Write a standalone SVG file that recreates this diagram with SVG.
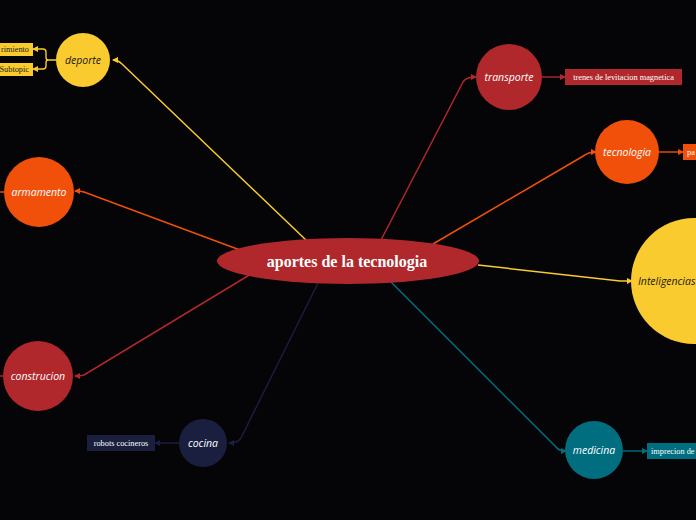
<svg xmlns="http://www.w3.org/2000/svg" width="696" height="520" viewBox="0 0 696 520">
<style>
.bg{fill:#050407}
.lbl{font-family:"Open Sans","DejaVu Sans",sans-serif;font-style:italic;font-size:10.5px;dominant-baseline:central}
.m{text-anchor:middle}
.w{fill:#ffffff}
.d{fill:#1a1a1a}
.box{font-family:"Liberation Serif","DejaVu Serif",serif;font-size:8.3px;dominant-baseline:central}
.c{fill:none;stroke-width:1.5}
.s{fill:none;stroke-width:1.4}
</style>
<defs>
<marker id="aY" viewBox="0 0 6 6" refX="5" refY="3" markerWidth="6" markerHeight="6" markerUnits="userSpaceOnUse" orient="auto"><path d="M0,0 L6,3 L0,6 Z" fill="#F9CB2E"/></marker>
<marker id="aR" viewBox="0 0 6 6" refX="5" refY="3" markerWidth="6" markerHeight="6" markerUnits="userSpaceOnUse" orient="auto"><path d="M0,0 L6,3 L0,6 Z" fill="#B0282C"/></marker>
<marker id="aO" viewBox="0 0 6 6" refX="5" refY="3" markerWidth="6" markerHeight="6" markerUnits="userSpaceOnUse" orient="auto"><path d="M0,0 L6,3 L0,6 Z" fill="#F0500A"/></marker>
<marker id="aT" viewBox="0 0 6 6" refX="5" refY="3" markerWidth="6" markerHeight="6" markerUnits="userSpaceOnUse" orient="auto"><path d="M0,0 L6,3 L0,6 Z" fill="#006E7F"/></marker>
<marker id="aN" viewBox="0 0 6 6" refX="5" refY="3" markerWidth="6" markerHeight="6" markerUnits="userSpaceOnUse" orient="auto"><path d="M0,0 L6,3 L0,6 Z" fill="#1B1F3F"/></marker>
</defs>
<rect class="bg" x="0" y="0" width="696" height="520"/>

<g id="connectors">
<path class="c" stroke="#F9CB2E" d="M307,241 L122,64 Q118,60 113,60" marker-end="url(#aY)"/>
<path class="c" stroke="#B0282C" d="M381,240 L463,82 Q466,77 476,77" marker-end="url(#aR)"/>
<path class="c" stroke="#F0500A" d="M433,244 L585,155 Q589,152 596,152" marker-end="url(#aO)"/>
<path class="c" stroke="#F9CB2E" d="M478,265 L620,281 Q625,281 632,281" marker-end="url(#aY)"/>
<path class="c" stroke="#006E7F" d="M391,282 L556,447 Q559,451 566,451" marker-end="url(#aT)"/>
<path class="c" stroke="#1B1F3F" d="M318,283 L241,438 Q238,443 229,443" marker-end="url(#aN)"/>
<path class="c" stroke="#B0282C" d="M251,274 L84,375 Q81,376 75,376" marker-end="url(#aR)"/>
<path class="c" stroke="#F0500A" d="M240,250 L84,192 Q81,191 75,191" marker-end="url(#aO)"/>
<path class="s" stroke="#F0500A" d="M0,192 L4,192"/>
<path class="s" stroke="#B0282C" d="M0,376 L4,376"/>
<path class="s" stroke="#F9CB2E" d="M56,60 L48,60 Q46,60 46,57 L46,52 Q46,49 43,49 L33,49" marker-end="url(#aY)"/>
<path class="s" stroke="#F9CB2E" d="M48,60 Q46,60 46,63 L46,66 Q46,69 43,69 L33,69" marker-end="url(#aY)"/>
<path class="s" stroke="#B0282C" d="M542,77 L565,77" marker-end="url(#aR)"/>
<path class="s" stroke="#F0500A" d="M659,152 L683,152" marker-end="url(#aO)"/>
<path class="s" stroke="#006E7F" d="M623,451 L647,451" marker-end="url(#aT)"/>
<path class="s" stroke="#1B1F3F" d="M179,443 L155,443" marker-end="url(#aN)"/>
</g>

<g id="center">
<ellipse cx="348" cy="261" rx="131" ry="23" fill="#B0282C"/>
<text x="347" y="261" font-family="'Liberation Serif','DejaVu Serif',serif" font-weight="bold" font-size="16px" fill="#ffffff" text-anchor="middle" dominant-baseline="central">aportes de la tecnologia</text>
</g>

<g id="deporte">
<circle cx="83" cy="60" r="27" fill="#F9CB2E"/>
<text class="lbl m d" x="83" y="60">deporte</text>
</g>
<g id="deporte-sub1">
<rect x="-2" y="43" width="35" height="13" fill="#F9CB2E"/>
<text class="box d" x="29" y="49.5" text-anchor="end">rimiento</text>
</g>
<g id="deporte-sub2">
<rect x="-2" y="63" width="35" height="13" fill="#F9CB2E"/>
<text class="box d" x="29" y="69.5" text-anchor="end">Subtopic</text>
</g>

<g id="transporte">
<circle cx="509" cy="77" r="33" fill="#B0282C"/>
<text class="lbl m w" x="509" y="77">transporte</text>
</g>
<g id="transporte-sub">
<rect x="565" y="69" width="117" height="16" fill="#B0282C"/>
<text class="box w" x="623.5" y="77" text-anchor="middle">trenes de levitacion magnetica</text>
</g>

<g id="tecnologia">
<circle cx="627" cy="152" r="32" fill="#F0500A"/>
<text class="lbl m w" x="627" y="152">tecnologia</text>
</g>
<g id="tecnologia-sub">
<rect x="683" y="144" width="20" height="16" fill="#F0500A"/>
<text class="box w" x="687" y="152">pa</text>
</g>

<g id="inteligencias">
<circle cx="694" cy="281" r="63" fill="#F9CB2E"/>
<text class="lbl d" x="638" y="281">Inteligencias</text>
</g>

<g id="medicina">
<circle cx="594" cy="450" r="29" fill="#006E7F"/>
<text class="lbl m w" x="594" y="450">medicina</text>
</g>
<g id="medicina-sub">
<rect x="647" y="443" width="60" height="16" fill="#006E7F"/>
<text class="box w" x="651" y="451">imprecion de</text>
</g>

<g id="cocina">
<circle cx="203" cy="443" r="24" fill="#1B1F3F"/>
<text class="lbl m w" x="203" y="443">cocina</text>
</g>
<g id="cocina-sub">
<rect x="87" y="435" width="68" height="16" fill="#1B1F3F"/>
<text class="box w" x="121" y="443" text-anchor="middle">robots cocineros</text>
</g>

<g id="armamento">
<circle cx="39" cy="192" r="35" fill="#F0500A"/>
<text class="lbl m w" x="39" y="192">armamento</text>
</g>

<g id="construcion">
<circle cx="38" cy="376" r="35" fill="#B0282C"/>
<text class="lbl m w" x="38" y="376">construcion</text>
</g>
</svg>
